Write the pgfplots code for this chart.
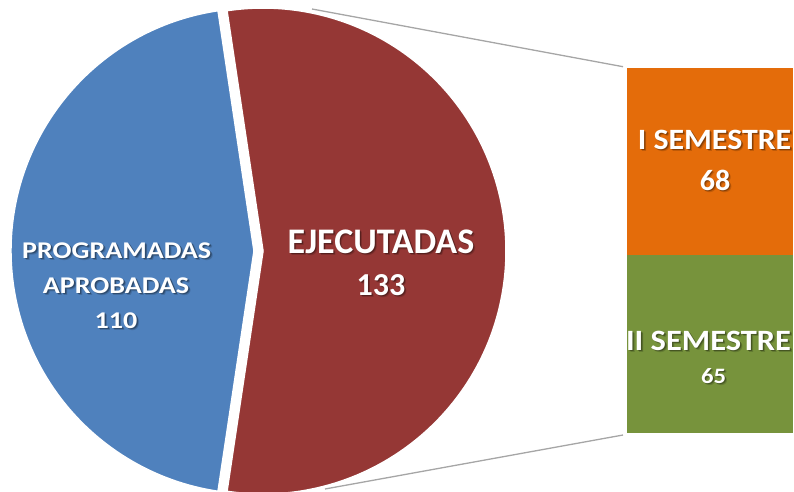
\documentclass[border=0pt]{standalone}
\usepackage{fontspec}
\setmainfont{Carlito}
\usepackage{pgfplots}
\usepackage{pgfplotstable}
\pgfplotsset{compat=1.18}
\definecolor{cBlue}{HTML}{4F81BD}
\definecolor{cRed}{HTML}{953735}
\definecolor{cOrange}{HTML}{E46C0A}
\definecolor{cGreen}{HTML}{77933C}
\definecolor{cLine}{HTML}{A6A6A6}

\pgfplotstableread{
label value
Programadas 110
Ejecutadas 133
}\pietable
\pgfplotstableread{
x value
0 68
}\semI
\pgfplotstableread{
x value
0 65
}\semII

\pgfplotstablegetelem{0}{value}\of\pietable \let\vProg\pgfplotsretval
\pgfplotstablegetelem{1}{value}\of\pietable \let\vEjec\pgfplotsretval
\pgfplotstablegetelem{0}{value}\of\semI \let\vI\pgfplotsretval
\pgfplotstablegetelem{0}{value}\of\semII \let\vII\pgfplotsretval
\pgfmathsetmacro\halfRed{180/(\vProg+\vEjec)*\vEjec}
\pgfmathsetmacro\blueEnd{360-\halfRed}
\pgfmathsetmacro\barTotal{\vI+\vII}

\newcommand{\shtext}[5]{%
  \node[anchor=base, text=white, font=#3, xscale=#5] at (axis cs:#1,#2)
   {\rlap{\kern2pt\raisebox{-2pt}{\pgfsetfillopacity{0.16}\color{black}#4\pgfsetfillopacity{1}}}%
    \rlap{\kern1.2pt\raisebox{-1.2pt}{\pgfsetfillopacity{0.3}\color{black}#4\pgfsetfillopacity{1}}}#4};}

\begin{document}
\begin{tikzpicture}
\begin{axis}[at={(627pt,58pt)}, anchor=south west, scale only axis, width=166pt, height=365pt,
  xmin=-0.5, xmax=0.5, ymin=0, ymax=\barTotal, hide axis, clip=false,
  ybar stacked, bar width=1, bar shift=0pt]
  \addplot[fill=cGreen, draw=none] table[x=x, y=value] {\semII};
  \addplot[fill=cOrange, draw=none] table[x=x, y=value] {\semI};
  \draw[white, line width=5pt] (axis cs:-0.5,\vII) -- (axis cs:0.5,\vII);
\end{axis}
\begin{axis}[at={(0,0)}, anchor=south west, scale only axis, width=794pt, height=491pt,
  xmin=0, xmax=794, ymin=0, ymax=491, hide axis, clip=false]
  % connector lines
  \draw[cLine, line width=1.3pt] (axis cs:312,482) -- (axis cs:623,424.3);
  \draw[cLine, line width=1.3pt] (axis cs:325,2) -- (axis cs:623,56);
  % pie slices
  \fill[cBlue, draw=white, line width=1.5pt] (axis cs:254,240) -- +(\halfRed:243pt)
     arc[start angle=\halfRed, end angle=\blueEnd, radius=243pt] -- cycle;
  \fill[cRed, draw=white, line width=1.5pt] (axis cs:263,240) -- +(-\halfRed:243pt)
     arc[start angle=-\halfRed, end angle=\halfRed, radius=243pt] -- cycle;
  % labels
  \shtext{116.7}{232.3}{\fontsize{24}{28}\selectfont\bfseries}{PROGRAMADAS}{1.17}
  \shtext{116}{197.7}{\fontsize{24}{28}\selectfont\bfseries}{APROBADAS}{1.17}
  \shtext{116}{162.7}{\fontsize{24}{28}\selectfont\bfseries}{110}{1.17}
  \shtext{381}{237.3}{\fontsize{36}{40}\selectfont\bfseries}{EJECUTADAS}{1}
  \shtext{381}{195.7}{\fontsize{32}{36}\selectfont\bfseries}{133}{1}
  \shtext{714.5}{341.7}{\fontsize{29.5}{34}\selectfont\bfseries}{I SEMESTRE}{1.08}
  \shtext{715}{301}{\fontsize{29.5}{34}\selectfont\bfseries}{68}{1.02}
  \shtext{708.5}{140.3}{\fontsize{29.5}{34}\selectfont\bfseries}{II SEMESTRE}{1.1}
  \shtext{713.5}{107.7}{\fontsize{22}{26}\selectfont\bfseries}{65}{1.12}
\end{axis}
\pgfresetboundingbox
\path[use as bounding box] (0,0) rectangle (794pt,491pt);
\end{tikzpicture}
\end{document}
